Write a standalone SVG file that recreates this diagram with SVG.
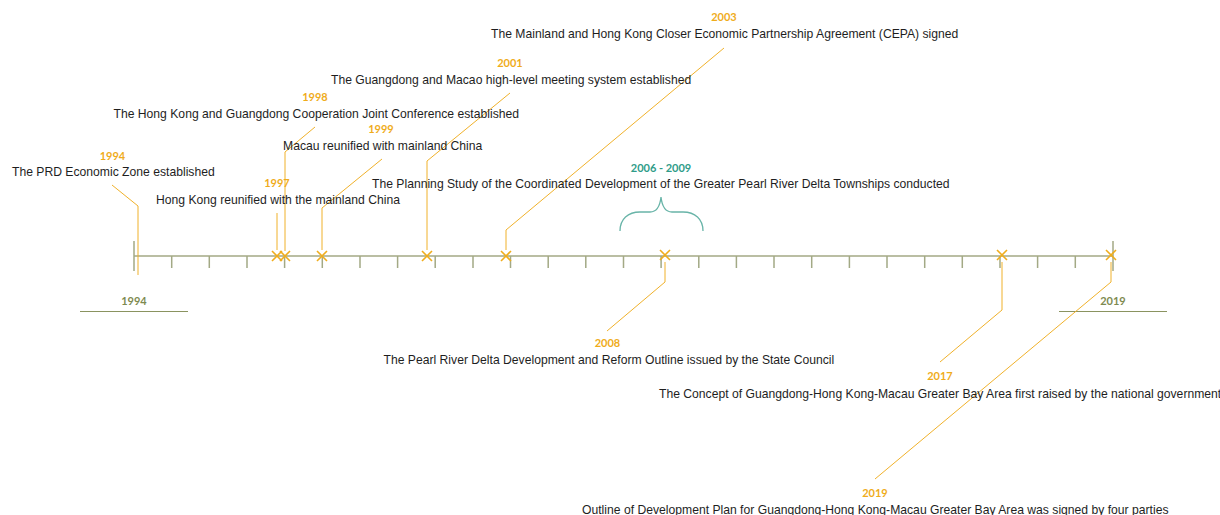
<svg xmlns="http://www.w3.org/2000/svg" width="1220" height="515" viewBox="0 0 1220 515">
<style>
.axis{stroke:#a3a985;stroke-width:1.5;fill:none}
.lead{stroke:#f0b12a;stroke-width:1;fill:none}
.x{stroke:#f0ad1c;stroke-width:1.6;fill:none}
.yr{font-family:Lato,"Liberation Sans",sans-serif;font-weight:bold;font-size:11px;fill:#efac1b;text-anchor:middle}
.t{font-family:"Liberation Sans",Arial,sans-serif;font-size:12.16px;fill:#1e1e1e}
.end{font-family:Lato,"Liberation Sans",sans-serif;font-weight:bold;font-size:11px;fill:#7e8a50;text-anchor:middle}
.endline{stroke:#8a9360;stroke-width:1.2}
.brace{stroke:#68b4a8;stroke-width:1.3;fill:none}
.span{font-family:Lato,"Liberation Sans",sans-serif;font-weight:bold;font-size:11px;fill:#2f9c89;text-anchor:middle}
</style>
<g id="timeline">
<line class="axis" x1="134" y1="256" x2="1113" y2="256"/>
<line class="axis" x1="134" y1="241" x2="134" y2="271"/>
<line class="axis" x1="1113" y1="241" x2="1113" y2="271"/>
<path class="axis" d="M171.7,256V268M209.3,256V268M247,256V268M284.6,256V268M322.3,256V268M360,256V268M397.6,256V268M435.2,256V268M473,256V268M510.5,256V268M548.2,256V268M585.8,256V268M623.5,256V268M661.1,256V268M698.8,256V268M736.4,256V268M774,256V268M811.7,256V268M849.4,256V268M887,256V268M924.7,256V268M962.3,256V268M1000,256V268M1037.6,256V268M1075.3,256V268"/>
<text class="end" x="134" y="305">1994</text>
<line class="endline" x1="80" y1="311.5" x2="188" y2="311.5"/>
<text class="end" x="1113" y="305">2019</text>
<line class="endline" x1="1059" y1="311.5" x2="1167" y2="311.5"/>
</g>
<g id="connectors">
<polyline class="lead" points="112,185 138,206 138,275"/>
<polyline class="lead" points="277,213 277,250"/>
<polyline class="lead" points="315,127 285,152 285,251"/>
<polyline class="lead" points="382,159 322,208 322,250"/>
<polyline class="lead" points="510,93 427,161 427,250"/>
<polyline class="lead" points="724,48 506,230 506,250"/>
<polyline class="lead" points="665,262 665,282 607,331"/>
<polyline class="lead" points="1002,262 1002,310 940,362"/>
<polyline class="lead" points="1111,262 1111,282 875,479"/>
</g>
<g id="markers">
<path class="x" d="M272,251l10,10M282,251l-10,10"/>
<path class="x" d="M280,251l10,10M290,251l-10,10"/>
<path class="x" d="M317,251l10,10M327,251l-10,10"/>
<path class="x" d="M422,251l10,10M432,251l-10,10"/>
<path class="x" d="M501,251l10,10M511,251l-10,10"/>
<path class="x" d="M660,250l10,10M670,250l-10,10"/>
<path class="x" d="M997,250l10,10M1007,250l-10,10"/>
<path class="x" d="M1106,250l10,10M1116,250l-10,10"/>
</g>
<g id="e1994">
<text class="yr" x="112.5" y="159.5">1994</text>
<text class="t" x="12" y="176">The PRD Economic Zone established</text>
</g>
<g id="e1997">
<text class="yr" x="277" y="187">1997</text>
<text class="t" x="156" y="203.5">Hong Kong reunified with the mainland China</text>
</g>
<g id="e1998">
<text class="yr" x="315" y="101">1998</text>
<text class="t" x="113.5" y="117.5">The Hong Kong and Guangdong Cooperation Joint Conference established</text>
</g>
<g id="e1999">
<text class="yr" x="381" y="133">1999</text>
<text class="t" x="283" y="149.5">Macau reunified with mainland China</text>
</g>
<g id="e2001">
<text class="yr" x="510" y="67">2001</text>
<text class="t" x="331" y="83.5">The Guangdong and Macao high-level meeting system established</text>
</g>
<g id="e2003">
<text class="yr" x="724" y="21">2003</text>
<text class="t" x="491" y="37.5">The Mainland and Hong Kong Closer Economic Partnership Agreement (CEPA) signed</text>
</g>
<g id="e2006">
<text class="span" x="661" y="172">2006 - 2009</text>
<text class="t" x="372" y="188">The Planning Study of the Coordinated Development of the Greater Pearl River Delta Townships conducted</text>
<path class="brace" d="M620,231C620,219 628,212 640,212L650,212C657,212 660,206 661,197C662,206 665,212 672,212L683,212C695,212 703,219 703,231"/>
</g>
<g id="e2008">
<text class="yr" x="607.5" y="347">2008</text>
<text class="t" x="383.5" y="363.5">The Pearl River Delta Development and Reform Outline issued by the State Council</text>
</g>
<g id="e2017">
<text class="yr" x="940" y="380">2017</text>
<text class="t" x="659" y="397.5">The Concept of Guangdong-Hong Kong-Macau Greater Bay Area first raised by the national government</text>
</g>
<g id="e2019">
<text class="yr" x="875" y="497">2019</text>
<text class="t" x="582" y="513.5">Outline of Development Plan for Guangdong-Hong Kong-Macau Greater Bay Area was signed by four parties</text>
</g>
</svg>
